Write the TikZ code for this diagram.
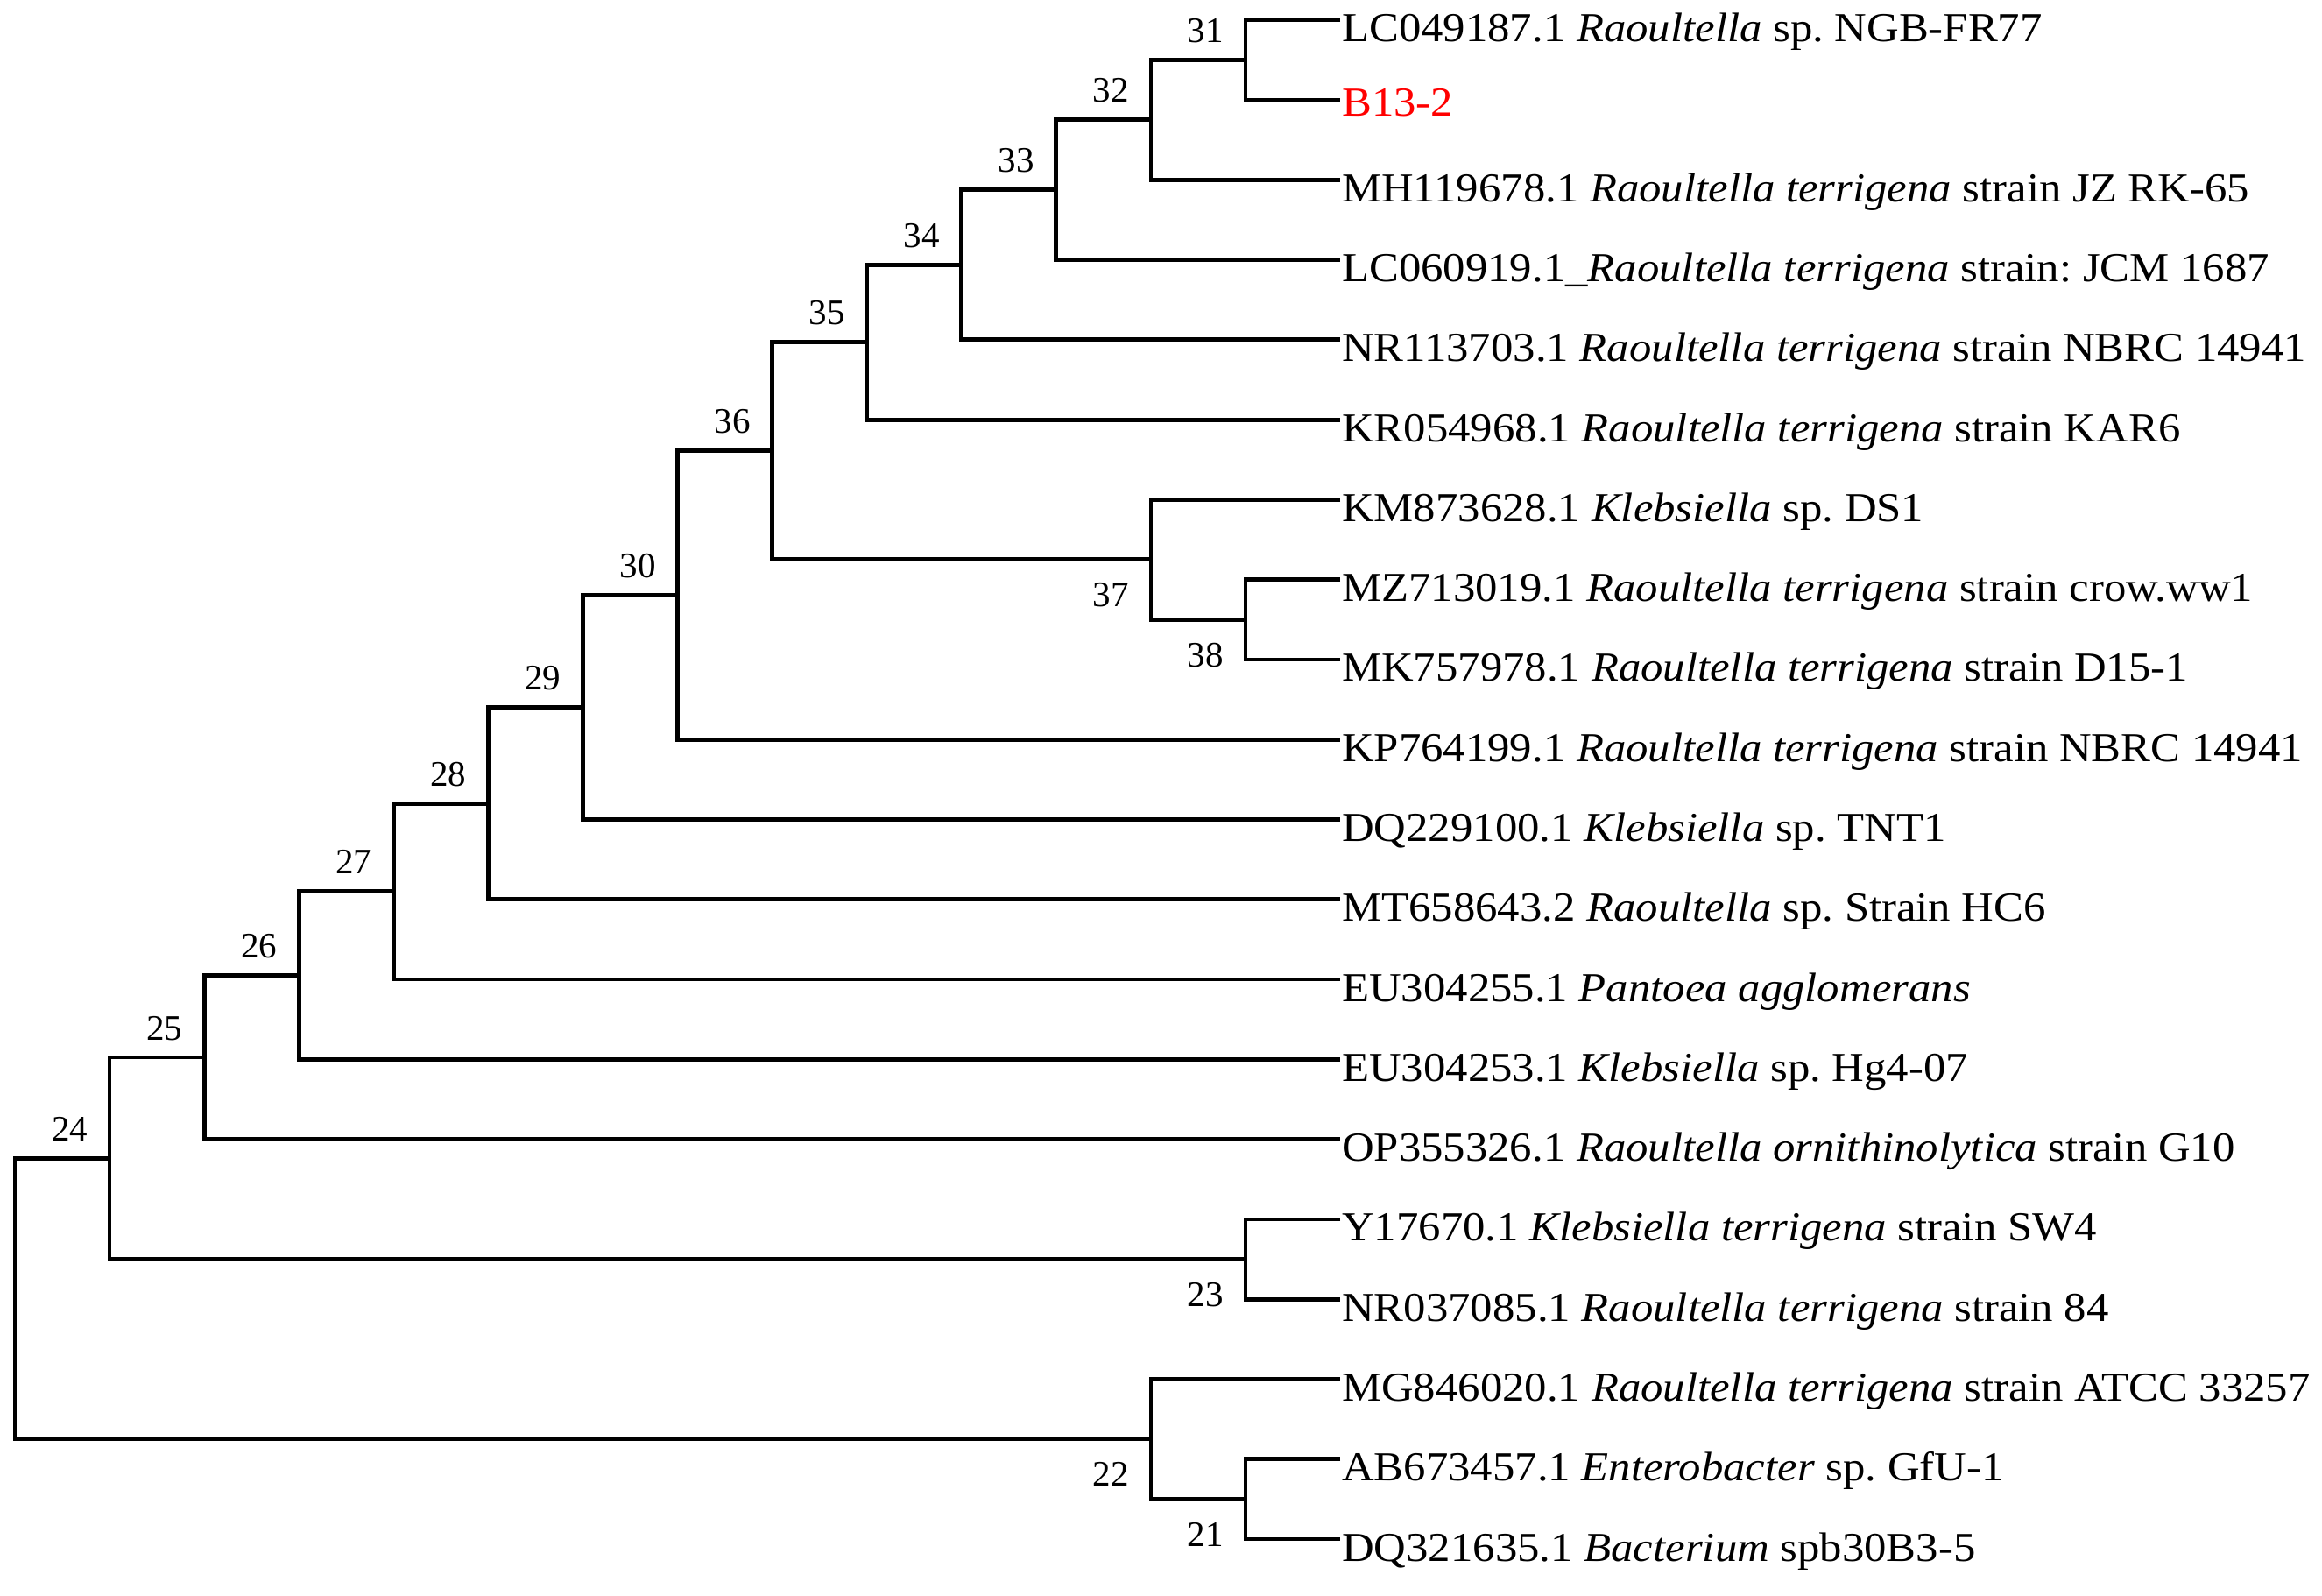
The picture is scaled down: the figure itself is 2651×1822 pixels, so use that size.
\documentclass[tikz,border=0pt]{standalone}
\usepackage{fontspec}
\setmainfont{Liberation Serif}
\newfontfamily\leaffont[FakeStretch=1.08]{Liberation Serif}
\begin{document}
\frenchspacing
\begin{tikzpicture}[x=1pt,y=-1pt,
  br/.style={line width=4.8pt, line join=miter},
  leaf/.style={anchor=base west, inner sep=0pt, font=\leaffont\fontsize{47}{50}\selectfont\frenchspacing},
  bsup/.style={anchor=base, inner sep=0pt, font=\fontsize{41}{45}\selectfont, xshift=-45.5pt, yshift=20pt},
  bsdn/.style={anchor=base, inner sep=0pt, font=\fontsize{41}{45}\selectfont, xshift=-45.5pt, yshift=-54pt}]
\useasboundingbox (0,0) rectangle (2651,1822);
% leaves
\coordinate (l1)  at (1530,22.7);
\coordinate (l2)  at (1530,113.98);
\coordinate (l3)  at (1530,205.26);
\coordinate (l4)  at (1530,296.54);
\coordinate (l5)  at (1530,387.82);
\coordinate (l6)  at (1530,479.1);
\coordinate (l7)  at (1530,570.38);
\coordinate (l8)  at (1530,661.66);
\coordinate (l9)  at (1530,752.94);
\coordinate (l10) at (1530,844.22);
\coordinate (l11) at (1530,935.5);
\coordinate (l12) at (1530,1026.78);
\coordinate (l13) at (1530,1118.06);
\coordinate (l14) at (1530,1209.34);
\coordinate (l15) at (1530,1300.62);
\coordinate (l16) at (1530,1391.9);
\coordinate (l17) at (1530,1483.18);
\coordinate (l18) at (1530,1574.46);
\coordinate (l19) at (1530,1665.74);
\coordinate (l20) at (1530,1757.02);
% internal nodes
\coordinate (n31) at (1421.9,68.34);
\coordinate (n32) at (1313.9,136.8);
\coordinate (n33) at (1205.8,216.67);
\coordinate (n34) at (1097.7,302.25);
\coordinate (n35) at (989.6,390.67);
\coordinate (n38) at (1421.9,707.3);
\coordinate (n37) at (1313.9,638.84);
\coordinate (n36) at (881.5,514.76);
\coordinate (n30) at (773.5,679.49);
\coordinate (n29) at (665.4,807.5);
\coordinate (n28) at (557.3,917.14);
\coordinate (n27) at (449.2,1017.6);
\coordinate (n26) at (341.1,1113.47);
\coordinate (n25) at (233.1,1207.05);
\coordinate (n23) at (1421.9,1437.54);
\coordinate (n24) at (125,1322.3);
\coordinate (n21) at (1421.9,1711.38);
\coordinate (n22) at (1313.9,1642.92);
\coordinate (root) at (16.9,1482.6);
% branches
\draw[br] (l1) -| (n31) |- (l2);
\draw[br] (n31) -| (n32) |- (l3);
\draw[br] (n32) -| (n33) |- (l4);
\draw[br] (n33) -| (n34) |- (l5);
\draw[br] (n34) -| (n35) |- (l6);
\draw[br] (l8) -| (n38) |- (l9);
\draw[br] (l7) -| (n37) |- (n38);
\draw[br] (n35) -| (n36) |- (n37);
\draw[br] (n36) -| (n30) |- (l10);
\draw[br] (n30) -| (n29) |- (l11);
\draw[br] (n29) -| (n28) |- (l12);
\draw[br] (n28) -| (n27) |- (l13);
\draw[br] (n27) -| (n26) |- (l14);
\draw[br] (n26) -| (n25) |- (l15);
\draw[br] (l16) -| (n23) |- (l17);
\draw[br] (n25) -| (n24) |- (n23);
\draw[br] (l19) -| (n21) |- (l20);
\draw[br] (l18) -| (n22) |- (n21);
\draw[br] (n24) -| (root) |- (n22);
% branch labels
\node[bsup] (k31) at (n31) {31};
\node[bsup] (k32) at (n32) {32};
\node[bsup] (k33) at (n33) {33};
\node[bsup] (k34) at (n34) {34};
\node[bsup] (k35) at (n35) {35};
\node[bsup] (k36) at (n36) {36};
\node[bsup] (k30) at (n30) {30};
\node[bsup] (k29) at (n29) {29};
\node[bsup] (k28) at (n28) {28};
\node[bsup] (k27) at (n27) {27};
\node[bsup] (k26) at (n26) {26};
\node[bsup] (k25) at (n25) {25};
\node[bsup] (k24) at (n24) {24};
\node[bsdn] (k37) at (n37) {37};
\node[bsdn] (k38) at (n38) {38};
\node[bsdn] (k23) at (n23) {23};
\node[bsdn] (k22) at (n22) {22};
\node[bsdn] (k21) at (n21) {21};
% leaf labels
\node[leaf] (t1)  at ([xshift=2pt,yshift=-25pt]l1)  {LC049187.1 \textit{Raoultella} sp. NGB-FR77};
\node[leaf,text=red] (t2) at ([xshift=2pt,yshift=-19pt]l2) {B13-2};
\node[leaf] (t3)  at ([xshift=2pt,yshift=-25pt]l3)  {MH119678.1 \textit{Raoultella terrigena} strain JZ RK-65};
\node[leaf] (t4)  at ([xshift=2pt,yshift=-25pt]l4)  {LC060919.1\_\textit{Raoultella terrigena} strain: JCM 1687};
\node[leaf] (t5)  at ([xshift=2pt,yshift=-25pt]l5)  {NR113703.1 \textit{Raoultella terrigena} strain NBRC 14941};
\node[leaf] (t6)  at ([xshift=2pt,yshift=-25pt]l6)  {KR054968.1 \textit{Raoultella terrigena} strain KAR6};
\node[leaf] (t7)  at ([xshift=2pt,yshift=-25pt]l7)  {KM873628.1 \textit{Klebsiella} sp. DS1};
\node[leaf] (t8)  at ([xshift=2pt,yshift=-25pt]l8)  {MZ713019.1 \textit{Raoultella terrigena} strain crow.ww1};
\node[leaf] (t9)  at ([xshift=2pt,yshift=-25pt]l9)  {MK757978.1 \textit{Raoultella terrigena} strain D15-1};
\node[leaf] (t10) at ([xshift=2pt,yshift=-25pt]l10) {KP764199.1 \textit{Raoultella terrigena} strain NBRC 14941};
\node[leaf] (t11) at ([xshift=2pt,yshift=-25pt]l11) {DQ229100.1 \textit{Klebsiella} sp. TNT1};
\node[leaf] (t12) at ([xshift=2pt,yshift=-25pt]l12) {MT658643.2 \textit{Raoultella} sp. Strain HC6};
\node[leaf] (t13) at ([xshift=2pt,yshift=-25pt]l13) {EU304255.1 \textit{Pantoea agglomerans}};
\node[leaf] (t14) at ([xshift=2pt,yshift=-25pt]l14) {EU304253.1 \textit{Klebsiella} sp. Hg4-07};
\node[leaf] (t15) at ([xshift=2pt,yshift=-25pt]l15) {OP355326.1 \textit{Raoultella ornithinolytica} strain G10};
\node[leaf] (t16) at ([xshift=2pt,yshift=-25pt]l16) {Y17670.1 \textit{Klebsiella terrigena} strain SW4};
\node[leaf] (t17) at ([xshift=2pt,yshift=-25pt]l17) {NR037085.1 \textit{Raoultella terrigena} strain 84};
\node[leaf] (t18) at ([xshift=2pt,yshift=-25pt]l18) {MG846020.1 \textit{Raoultella terrigena} strain ATCC 33257};
\node[leaf] (t19) at ([xshift=2pt,yshift=-25pt]l19) {AB673457.1 \textit{Enterobacter} sp. GfU-1};
\node[leaf] (t20) at ([xshift=2pt,yshift=-25pt]l20) {DQ321635.1 \textit{Bacterium} spb30B3-5};
\end{tikzpicture}
\end{document}
